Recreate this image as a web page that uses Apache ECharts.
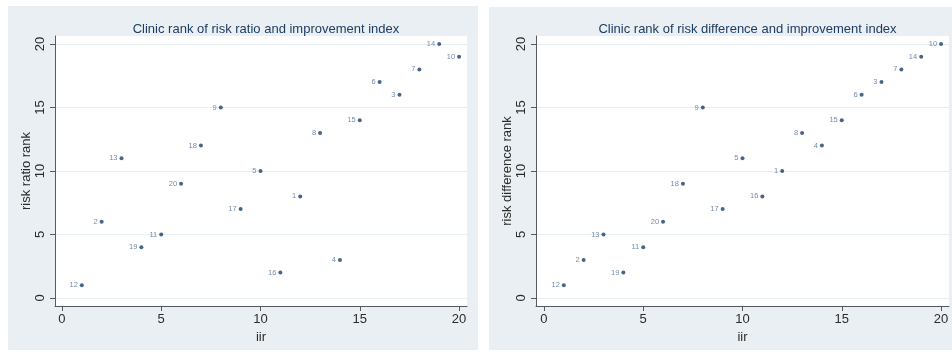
<!DOCTYPE html>
<html>
<head>
<meta charset="utf-8">
<script src="https://cdn.jsdelivr.net/npm/echarts@6/dist/echarts.min.js"></script>
<style>
  html, body { margin: 0; padding: 0; background: #ffffff; }
  #chart { width: 952px; height: 352px; }
</style>
</head>
<body>
<div id="chart"></div>
<script>
// Improvement index rank (x) for each clinic
const iir = [1, 2, 3, 4, 5, 6, 7, 8, 9, 10, 11, 12, 13, 14, 15, 16, 17, 18, 19, 20];
// Clinic number labelling each point
const clinic = [12, 2, 13, 19, 11, 20, 18, 9, 17, 5, 16, 1, 8, 4, 15, 6, 3, 7, 14, 10];
// Risk ratio rank per clinic (same order as above)
const riskRatioRank = [1, 6, 11, 4, 5, 9, 12, 15, 7, 10, 2, 8, 13, 3, 14, 17, 16, 18, 20, 19];
// Risk difference rank per clinic
const riskDiffRank = [1, 3, 5, 2, 4, 6, 9, 15, 7, 11, 8, 10, 13, 12, 14, 16, 17, 18, 19, 20];
// Axis tick labels
const ticks = [0, 5, 10, 15, 20];

const titles = [
  'Clinic rank of risk ratio and improvement index',
  'Clinic rank of risk difference and improvement index'
];
const yNames = ['risk ratio rank', 'risk difference rank'];

const navy = '#1a3f66';
const axisColor = '#555b60';
const tickText = '#2b2b2b';
const gridColor = '#e6eef1';
const panelBg = '#e9eff2';
const font = 'Liberation Sans, Arial, sans-serif';

const chart = echarts.init(document.getElementById('chart'), null, { renderer: 'canvas' });

const grids = [
  { left: 55, top: 36, width: 412, height: 270 },
  { left: 536, top: 36, width: 413, height: 270 }
];
const xRanges = [[-0.35, 20.4], [-0.4, 20.4]];

function xAxis(i) {
  return {
    type: 'value', gridIndex: i, min: xRanges[i][0], max: xRanges[i][1],
    name: 'iir', nameLocation: 'middle', nameGap: 18,
    nameTextStyle: { color: tickText, fontSize: 13, fontFamily: font },
    axisLine: { show: true, onZero: false, lineStyle: { color: axisColor, width: 1 } },
    axisTick: { show: true, length: 5, lineStyle: { color: axisColor }, customValues: ticks },
    axisLabel: { color: tickText, fontSize: 13, fontFamily: font, margin: 7, customValues: ticks },
    splitLine: { show: false }
  };
}
function yAxis(i) {
  return {
    type: 'value', gridIndex: i, min: -0.63, max: 20.63,
    name: yNames[i], nameLocation: 'middle', nameGap: 20,
    nameTextStyle: { color: tickText, fontSize: 13, fontFamily: font },
    axisLine: { show: true, onZero: false, lineStyle: { color: axisColor, width: 1 } },
    axisTick: { show: true, length: 5, lineStyle: { color: axisColor }, customValues: ticks },
    axisLabel: { color: tickText, fontSize: 13, fontFamily: font, margin: 8, rotate: 90, customValues: ticks },
    splitLine: { show: true, lineStyle: { color: gridColor, width: 1 } }
  };
}
function series(i, ranks) {
  return {
    type: 'scatter', xAxisIndex: i, yAxisIndex: i,
    symbol: 'circle', symbolSize: 4,
    itemStyle: { color: navy },
    label: {
      show: true, position: 'left', distance: 2,
      formatter: p => String(p.value[2]),
      color: '#4f6f96', fontSize: 7.5, fontFamily: font
    },
    data: iir.map((x, k) => [x, ranks[k], clinic[k]])
  };
}

chart.setOption({
  animation: false,
  backgroundColor: '#ffffff',
  graphic: [
    { type: 'rect', z: -10, shape: { x: 8, y: 6, width: 470, height: 344 }, style: { fill: panelBg } },
    { type: 'rect', z: -10, shape: { x: 489, y: 7, width: 463, height: 343 }, style: { fill: panelBg } },
    { type: 'rect', z: -9, shape: { x: 55, y: 36, width: 412, height: 270 }, style: { fill: '#ffffff' } },
    { type: 'rect', z: -9, shape: { x: 536, y: 36, width: 413, height: 270 }, style: { fill: '#ffffff' } }
  ],
  title: titles.map((t, i) => ({
    text: t, left: grids[i].left + grids[i].width / 2, top: 18, textAlign: 'center',
    textStyle: { color: '#1e3d62', fontSize: 13, fontWeight: 'normal', fontFamily: font }
  })),
  grid: grids,
  xAxis: [xAxis(0), xAxis(1)],
  yAxis: [yAxis(0), yAxis(1)],
  series: [series(0, riskRatioRank), series(1, riskDiffRank)]
});
</script>
</body>
</html>
